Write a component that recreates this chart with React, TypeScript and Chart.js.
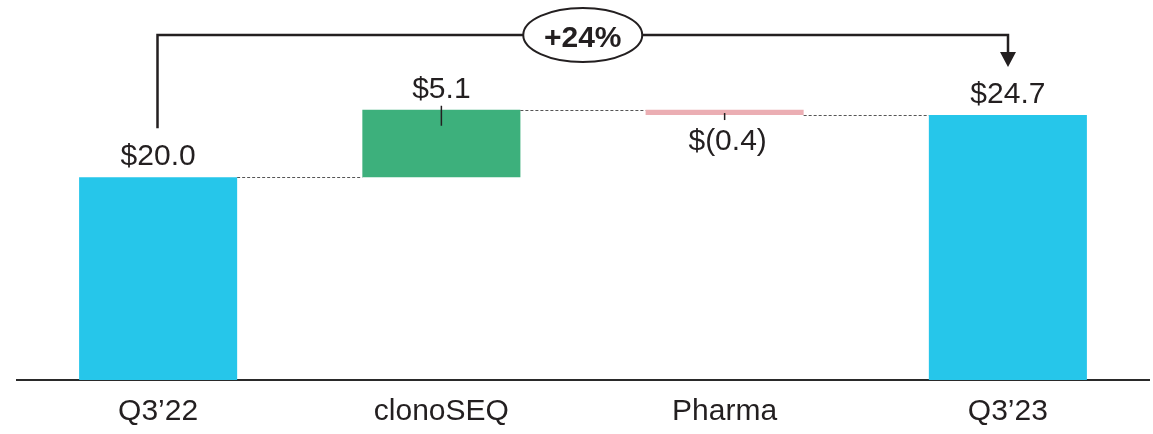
import React, { useEffect, useRef } from 'react';
import { Chart, registerables } from 'chart.js';

Chart.register(...registerables);

// ---- Data ----
const categories = ['Q3’22', 'clonoSEQ', 'Pharma', 'Q3’23'];
const values = [20.0, 5.1, -0.4, 24.7];
const isTotal = [true, false, false, true];
const valueLabels = ['$20.0', '$5.1', '$(0.4)', '$24.7'];
const barColors = ['#26C6EA', '#3DB07C', '#EBAEB3', '#26C6EA'];
const growthLabel = '+24%';
const Y_MIN = 4.65;
const Y_MAX = 30;

// floating ranges and running totals derived from the values
const ranges: number[][] = [];
const levels: number[] = [];
{
  let run = 0;
  values.forEach((v, i) => {
    if (isTotal[i]) {
      run = v;
      ranges.push([Math.max(0, Y_MIN), v]);
    } else {
      const s = run;
      run = +(run + v).toFixed(4);
      ranges.push([s, run]);
    }
    levels.push(run);
  });
}

const FONT = '"Liberation Sans", Arial, Helvetica, sans-serif';
const INK = '#231F20';

const overlayPlugin = {
  id: 'waterfallOverlay',
  afterDatasetsDraw(chart: any) {
    const ctx = chart.ctx as CanvasRenderingContext2D;
    const meta = chart.getDatasetMeta(0);
    const ys = chart.scales.y;
    const bars = meta.data as any[];
    ctx.save();

    // dashed connectors
    ctx.strokeStyle = '#555';
    ctx.lineWidth = 1;
    ctx.setLineDash([3, 2]);
    for (let i = 0; i < bars.length - 1; i++) {
      const a = bars[i];
      const b = bars[i + 1];
      const y = Math.round(ys.getPixelForValue(levels[i])) + 0.5;
      ctx.beginPath();
      ctx.moveTo(a.x + a.width / 2, y);
      ctx.lineTo(b.x - b.width / 2, y);
      ctx.stroke();
    }
    ctx.setLineDash([]);

    // value labels + leader ticks
    ctx.fillStyle = INK;
    ctx.strokeStyle = INK;
    ctx.font = `30px ${FONT}`;
    ctx.textAlign = 'center';
    ctx.textBaseline = 'alphabetic';
    bars.forEach((bar: any, i: number) => {
      const top = Math.min(bar.y, bar.base);
      const bottom = Math.max(bar.y, bar.base);
      if (values[i] >= 0) {
        ctx.fillText(valueLabels[i], bar.x, top - 12);
        if (!isTotal[i]) {
          ctx.lineWidth = 1.5;
          ctx.beginPath();
          ctx.moveTo(bar.x, top - 4);
          ctx.lineTo(bar.x, top + 16);
          ctx.stroke();
        }
      } else {
        ctx.fillText(valueLabels[i], bar.x + 3, bottom + 35);
        ctx.lineWidth = 1.5;
        ctx.beginPath();
        ctx.moveTo(bar.x, bottom - 2);
        ctx.lineTo(bar.x, bottom + 5);
        ctx.stroke();
      }
    });

    // growth bracket
    const first = bars[0];
    const last = bars[bars.length - 1];
    const x0 = Math.round(first.x) - 0.5;
    const x1 = Math.round(last.x);
    const yStart = Math.min(first.y, first.base) - 49;
    const yTop = chart.chartArea.top - 10;
    const tip = Math.min(last.y, last.base) - 48;
    ctx.lineWidth = 2.5;
    ctx.lineJoin = 'miter';
    ctx.beginPath();
    ctx.moveTo(x0, yStart);
    ctx.lineTo(x0, yTop);
    ctx.lineTo(x1, yTop);
    ctx.lineTo(x1, tip - 14);
    ctx.stroke();
    ctx.beginPath();
    ctx.moveTo(x1 - 8, tip - 15);
    ctx.lineTo(x1 + 8, tip - 15);
    ctx.lineTo(x1, tip);
    ctx.closePath();
    ctx.fill();

    // ellipse with growth label
    const cx = (x0 + x1) / 2;
    ctx.beginPath();
    ctx.ellipse(cx, yTop, 59.5, 27, 0, 0, Math.PI * 2);
    ctx.fillStyle = '#FFFFFF';
    ctx.fill();
    ctx.lineWidth = 2;
    ctx.stroke();
    ctx.fillStyle = INK;
    ctx.font = `bold 30px ${FONT}`;
    ctx.fillText(growthLabel, cx, yTop + 12);

    ctx.restore();
  },
};

export default function App() {
  const canvasRef = useRef<HTMLCanvasElement | null>(null);

  useEffect(() => {
    if (!canvasRef.current) return;
    Chart.defaults.font.family = FONT;
    const chart = new Chart(canvasRef.current, {
      type: 'bar',
      data: {
        labels: categories,
        datasets: [
          {
            data: ranges as any,
            backgroundColor: barColors,
            borderWidth: 0,
            categoryPercentage: 1,
            barPercentage: 0.558,
          },
        ],
      },
      options: {
        animation: false,
        responsive: true,
        maintainAspectRatio: false,
        layout: { padding: { left: 16.5, right: 3.5, top: 45, bottom: 0 } },
        plugins: {
          legend: { display: false },
          tooltip: { enabled: false },
        },
        scales: {
          x: {
            z: 1,
            grid: { display: false, drawTicks: false },
            border: { display: true, color: '#2a2a2a', width: 2 },
            ticks: {
              color: INK,
              padding: 13.5,
              font: { size: 30, family: FONT, lineHeight: 1.2 },
              maxRotation: 0,
              autoSkip: false,
            },
          },
          y: {
            display: false,
            min: Y_MIN,
            max: Y_MAX,
          },
        },
      },
      plugins: [overlayPlugin],
    });
    return () => chart.destroy();
  }, []);

  return (
    <div style={{ position: 'fixed', left: 0, top: 0, width: 1153, height: 443, background: '#fff' }}>
      <canvas ref={canvasRef} />
    </div>
  );
}
